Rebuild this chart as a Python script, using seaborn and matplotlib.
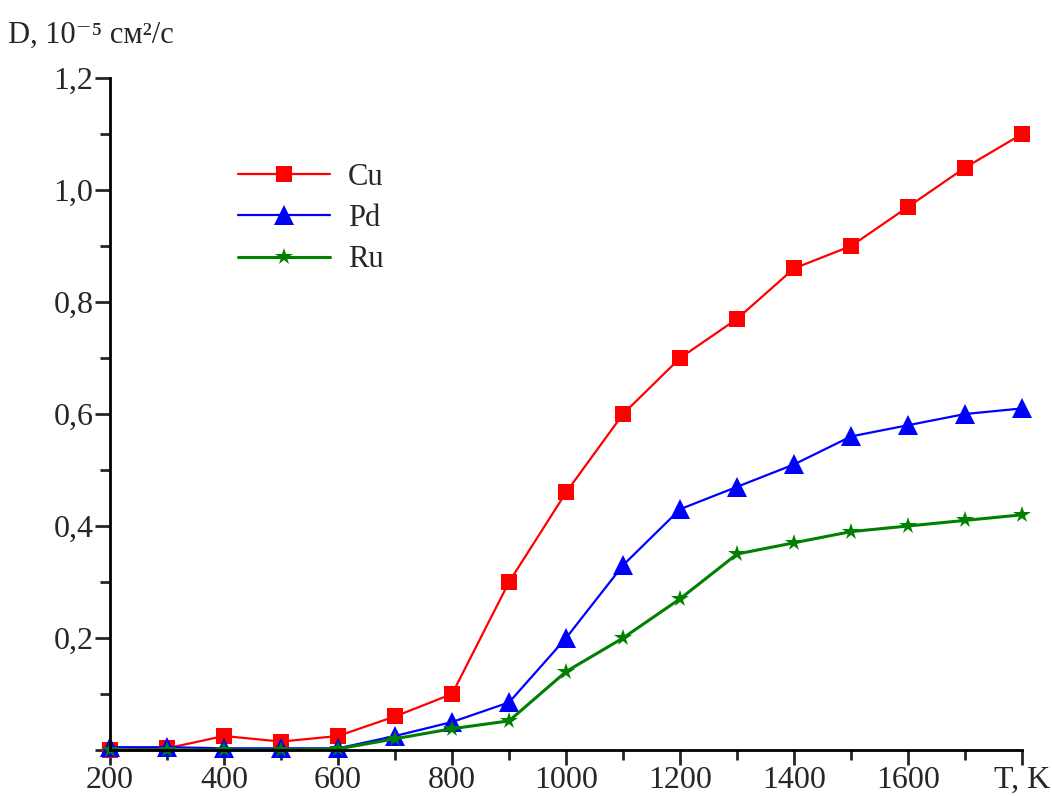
import numpy as np
import pandas as pd
import seaborn as sns
import matplotlib.pyplot as plt
from matplotlib.ticker import MultipleLocator, FuncFormatter

temps = [200, 300, 400, 500, 600, 700, 800, 900, 1000, 1100, 1200,
         1300, 1400, 1500, 1600, 1700, 1800]
cu = [0.0, 0.003, 0.025, 0.015, 0.025, 0.06, 0.10, 0.30, 0.46, 0.60, 0.70,
      0.77, 0.86, 0.90, 0.97, 1.04, 1.10]
pd_vals = [0.005, 0.005, 0.003, 0.003, 0.003, 0.025, 0.05, 0.085, 0.20, 0.33, 0.43,
           0.47, 0.51, 0.56, 0.58, 0.60, 0.61]
ru = [0.0, 0.0, 0.0, 0.0, 0.002, 0.02, 0.038, 0.052, 0.14, 0.20, 0.27,
      0.35, 0.37, 0.39, 0.40, 0.41, 0.42]
metals = ["Cu", "Pd", "Ru"]

df = pd.DataFrame({"T": temps * 3,
                   "D": cu + pd_vals + ru,
                   "metal": [m for m in metals for _ in temps]})

sns.set_style("ticks")
plt.rcParams['font.family'] = ['Liberation Serif', 'DejaVu Serif']

fig = plt.figure(figsize=(10.52, 7.96), dpi=100)
ax = fig.add_axes([0.1046, 0.0578, 0.867, 0.8442])

styles = {
    "Cu": dict(color="#ff0000", marker="s", markersize=11.5, lw=1.6),
    "Pd": dict(color="#0000ff", marker="^", markersize=14, lw=1.6),
    "Ru": dict(color="#008000", marker="*", markersize=13, lw=2.2),
}
for m in metals:
    st = styles[m]
    sns.lineplot(data=df[df.metal == m], x="T", y="D", ax=ax, label=m,
                 color=st["color"], marker=st["marker"], markersize=st["markersize"],
                 linewidth=st["lw"], markeredgewidth=0, clip_on=False)

ax.set_xlim(200, 1800)
ax.set_ylim(0, 1.2)
ax.xaxis.set_major_locator(MultipleLocator(200))
ax.xaxis.set_minor_locator(MultipleLocator(100))
ax.yaxis.set_major_locator(MultipleLocator(0.2))
ax.yaxis.set_minor_locator(MultipleLocator(0.1))

def xfmt(v, p):
    if abs(v - 1800) < 1:
        return "T, K"
    return f"{int(v)}"

def yfmt(v, p):
    if abs(v) < 1e-9:
        return ""
    return f"{v:.1f}".replace(".", ",")

ax.xaxis.set_major_formatter(FuncFormatter(xfmt))
ax.yaxis.set_major_formatter(FuncFormatter(yfmt))
ax.tick_params(which="major", direction="out", length=11, width=2, labelsize=23)
ax.tick_params(axis="x", which="major", pad=0.5)
ax.tick_params(axis="y", which="major", pad=1)
ax.tick_params(which="minor", direction="out", length=7, width=2)
for s in ["top", "right"]:
    ax.spines[s].set_visible(False)
for s in ["left", "bottom"]:
    ax.spines[s].set_linewidth(2)
    ax.spines[s].set_color("black")

ax.set_xlabel("")
ax.set_ylabel("")
fig.text(0.008, 0.956, "D, 10⁻⁵ см²/с", fontsize=22, ha="left", va="center")

ax.legend(loc="upper left", bbox_to_anchor=(0.2, 0.83), bbox_transform=fig.transFigure,
          frameon=False, fontsize=22, handlelength=3.0, labelspacing=0.4,
          handletextpad=0.6)

fig.savefig("out.png", dpi=100)
